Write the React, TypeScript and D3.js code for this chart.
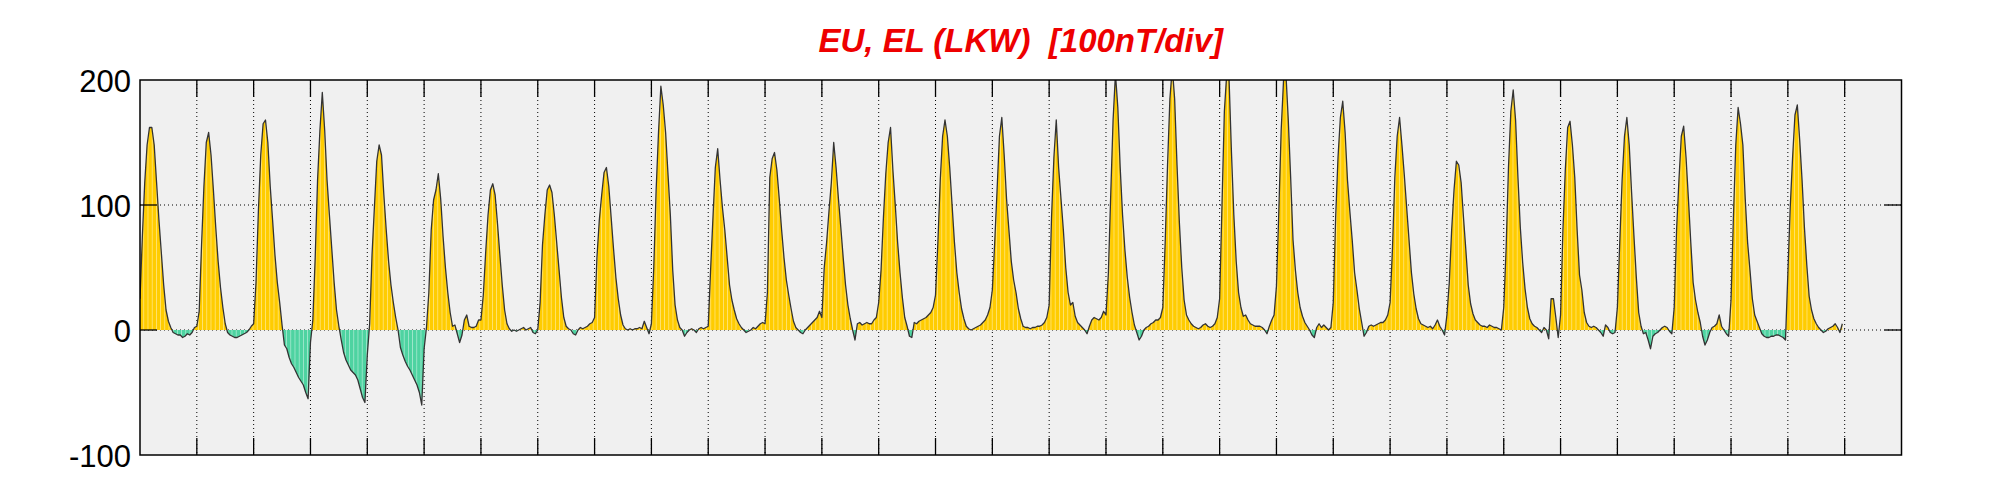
import React, { useEffect, useRef } from "react";
import * as d3 from "d3";

const title = "EU, EL (LKW)  [100nT/div]";
const yTicks = [-100, 0, 100, 200];
const dayTicks = d3.range(1, 31);
const dayCount = 31;

// hourly values (nT), one array of 24 per day
const hourly: number[][] = [
  [25, 75, 118, 148, 162, 162, 148, 118, 88, 62, 36, 16, 7, 2, -2, -3, -4, -4, -6, -5, -3, -4, -2, 2],
  [3, 15, 68, 115, 150, 158, 140, 112, 82, 55, 34, 18, 5, -2, -4, -5, -6, -6, -5, -4, -3, -2, 0, 3],
  [5, 38, 95, 140, 165, 168, 150, 115, 88, 60, 38, 22, 4, -12, -15, -22, -27, -30, -34, -38, -41, -44, -50, -55],
  [-10, 8, 58, 120, 160, 190, 160, 120, 92, 65, 38, 16, 3, -8, -18, -24, -28, -32, -34, -36, -40, -47, -54, -58],
  [-20, 5, 60, 98, 135, 148, 140, 108, 80, 55, 36, 22, 10, 0, -14, -20, -25, -29, -32, -36, -40, -44, -50, -60],
  [-15, 2, 30, 80, 104, 112, 125, 105, 75, 50, 30, 14, 3, 4, -3, -10, -4, 8, 12, 3, 2, 2, 3, 8],
  [8, 28, 62, 92, 112, 117, 108, 85, 60, 36, 16, 5, 1, -1, 0, -1, 0, 1, 2, 0, 1, 2, -2, -3],
  [0, 22, 68, 92, 112, 116, 110, 92, 70, 48, 26, 10, 3, 1, 0, -3, -4, 0, 2, 1, 2, 3, 5, 6],
  [10, 58, 88, 108, 126, 130, 115, 90, 65, 42, 25, 12, 4, 1, 0, 1, 0, 1, 1, 2, 1, 7, 2, -3],
  [5, 50, 112, 158, 195, 180, 158, 125, 92, 48, 20, 8, 2, 0, -5, -2, 0, 1, 0, -2, 1, 2, 1, 2],
  [3, 48, 90, 130, 145, 120, 98, 80, 58, 36, 24, 16, 9, 5, 2, 0, -2, -1, 0, 2, 1, 3, 5, 6],
  [5, 30, 122, 137, 142, 128, 105, 80, 58, 40, 28, 17, 7, 2, 0, -2, -3, 0, 2, 4, 6, 8, 10, 15],
  [10, 50, 70, 95, 118, 150, 130, 105, 82, 58, 36, 20, 9, 0, -8, 5, 6, 4, 5, 6, 5, 5, 8, 10],
  [22, 48, 90, 125, 150, 162, 128, 100, 70, 46, 26, 10, 3, -5, -6, 6, 5, 7, 8, 9, 10, 12, 14, 18],
  [28, 70, 120, 155, 168, 155, 130, 100, 70, 46, 30, 17, 9, 3, 1, 0, 1, 2, 3, 4, 6, 8, 12, 18],
  [32, 70, 112, 155, 170, 140, 105, 80, 55, 40, 30, 17, 9, 3, 2, 2, 1, 2, 2, 3, 3, 4, 6, 10],
  [20, 90, 138, 168, 130, 105, 80, 50, 30, 20, 22, 11, 6, 4, 2, 0, -3, 3, 8, 10, 9, 8, 10, 15],
  [12, 45, 108, 168, 205, 178, 130, 92, 64, 42, 26, 14, 4, -2, -8, -5, 0, 2, 3, 5, 6, 8, 8, 10],
  [18, 70, 132, 185, 210, 185, 132, 86, 50, 24, 12, 8, 5, 3, 2, 1, 2, 4, 5, 3, 2, 3, 5, 10],
  [25, 100, 175, 205, 200, 142, 92, 55, 30, 18, 11, 12, 8, 5, 4, 3, 3, 3, 2, 0, -3, 3, 8, 12],
  [35, 95, 160, 200, 205, 168, 122, 72, 48, 30, 18, 11, 6, 3, 0, -4, -6, 2, 5, 2, 4, 2, 0, 2],
  [22, 90, 138, 170, 183, 158, 120, 95, 72, 46, 32, 17, 6, -5, -2, 3, 4, 3, 4, 5, 6, 6, 8, 12],
  [22, 65, 122, 155, 170, 148, 124, 98, 72, 46, 29, 17, 9, 5, 4, 3, 2, 3, 1, 4, 8, 3, 0, -4],
  [12, 38, 80, 112, 135, 132, 118, 90, 64, 36, 21, 13, 8, 6, 4, 3, 3, 2, 4, 3, 2, 2, 1, 0],
  [18, 65, 130, 175, 192, 168, 122, 82, 54, 33, 18, 9, 5, 3, 2, 0, -2, 2, 0, -7, 25, 25, 10, -6],
  [12, 80, 128, 162, 167, 148, 122, 80, 44, 32, 14, 6, 3, 2, 3, 2, 0, -2, -5, 4, 2, -2, -3, -2],
  [18, 70, 120, 155, 170, 148, 110, 75, 42, 14, 3, -3, -2, -8, -15, -5, -3, -2, 0, 2, 3, 2, -1, -3],
  [18, 80, 120, 155, 163, 138, 105, 70, 38, 24, 14, 6, -5, -12, -8, -2, 2, 3, 5, 12, 3, 0, -3, -5],
  [24, 90, 148, 178, 165, 148, 105, 70, 48, 25, 12, 7, 2, -3, -5, -6, -6, -5, -5, -4, -4, -5, -6, -8],
  [45, 98, 138, 172, 180, 152, 120, 82, 52, 27, 16, 9, 5, 2, 0, -2, -1, 1, 2, 3, 5, 2, -2, 5],
];

type Pt = { t: number; v: number };

const App = () => {
  const chartRef = useRef<SVGSVGElement>(null);

  useEffect(() => {
    const width = 2001;
    const height = 500;
    const margin = { top: 80, right: 99.5, bottom: 45, left: 140 };
    const tickLen = 17;

    const points: Pt[] = hourly.flatMap((day, d) => day.map((v, h) => ({ t: d + h / 24, v })));

    const x = d3.scaleLinear().domain([0, dayCount]).range([margin.left, width - margin.right]);
    const y = d3.scaleLinear().domain([-100, 200]).range([height - margin.bottom, margin.top]);

    const svg = d3.select(chartRef.current);
    svg.selectAll("*").remove();

    const defs = svg.append("defs");
    defs.append("clipPath").attr("id", "plot-clip")
      .append("rect").attr("x", x(0)).attr("y", y(200)).attr("width", x(dayCount) - x(0)).attr("height", y(-100) - y(200));
    defs.append("clipPath").attr("id", "pos-clip")
      .append("rect").attr("x", x(0)).attr("y", y(200)).attr("width", x(dayCount) - x(0)).attr("height", y(0) - y(200));
    defs.append("clipPath").attr("id", "neg-clip")
      .append("rect").attr("x", x(0)).attr("y", y(0)).attr("width", x(dayCount) - x(0)).attr("height", y(-100) - y(0));

    // striped fill, like the stem-plot texture of the original
    const stripe = 4.2;
    [["stripe-pos", "#FFCC00"], ["stripe-neg", "#4ED3A1"]].forEach(([id, color]) => {
      const p = defs.append("pattern").attr("id", id)
        .attr("patternUnits", "userSpaceOnUse")
        .attr("x", x(0)).attr("y", 0)
        .attr("width", stripe).attr("height", 10);
      p.append("rect").attr("width", stripe).attr("height", 10).attr("fill", color);
      p.append("rect").attr("x", stripe - 0.8).attr("width", 0.8).attr("height", 10).attr("fill", "#fff").attr("opacity", 0.5);
    });

    // plot background
    svg.append("rect")
      .attr("x", x(0)).attr("y", y(200))
      .attr("width", x(dayCount) - x(0)).attr("height", y(-100) - y(200))
      .attr("fill", "#F0F0F0");

    // dotted grid
    svg.append("g").selectAll("line").data(dayTicks).enter().append("line")
      .attr("x1", (d) => x(d)).attr("x2", (d) => x(d))
      .attr("y1", y(200)).attr("y2", y(-100))
      .attr("stroke", "#000").attr("stroke-width", 1).attr("stroke-dasharray", "1,3");
    svg.append("g").selectAll("line").data([0, 100]).enter().append("line")
      .attr("x1", x(0)).attr("x2", x(dayCount))
      .attr("y1", (d) => y(d)).attr("y2", (d) => y(d))
      .attr("stroke", "#000").attr("stroke-width", 1).attr("stroke-dasharray", "1,3");

    const area = d3.area<Pt>().x((d) => x(d.t)).y0(y(0)).y1((d) => y(d.v));
    const line = d3.line<Pt>().x((d) => x(d.t)).y((d) => y(d.v));

    const plot = svg.append("g").attr("clip-path", "url(#plot-clip)");
    plot.append("g").attr("clip-path", "url(#pos-clip)")
      .append("path").datum(points).attr("d", area).attr("fill", "url(#stripe-pos)");
    plot.append("g").attr("clip-path", "url(#neg-clip)")
      .append("path").datum(points).attr("d", area).attr("fill", "url(#stripe-neg)");
    plot.append("path").datum(points)
      .attr("d", line)
      .attr("fill", "none")
      .attr("stroke", "#333")
      .attr("stroke-width", 1.3)
      .attr("stroke-linejoin", "round");

    // ticks, pointing inward
    const ticks = svg.append("g").attr("stroke", "#000").attr("stroke-width", 1.3);
    dayTicks.forEach((d) => {
      ticks.append("line").attr("x1", x(d)).attr("x2", x(d)).attr("y1", y(200)).attr("y2", y(200) + tickLen);
      ticks.append("line").attr("x1", x(d)).attr("x2", x(d)).attr("y1", y(-100)).attr("y2", y(-100) - tickLen);
    });
    [0, 100].forEach((v) => {
      ticks.append("line").attr("x1", x(0)).attr("x2", x(0) + tickLen).attr("y1", y(v)).attr("y2", y(v));
      ticks.append("line").attr("x1", x(dayCount)).attr("x2", x(dayCount) - tickLen).attr("y1", y(v)).attr("y2", y(v));
    });

    // frame
    svg.append("rect")
      .attr("x", x(0)).attr("y", y(200))
      .attr("width", x(dayCount) - x(0)).attr("height", y(-100) - y(200))
      .attr("fill", "none").attr("stroke", "#000").attr("stroke-width", 1.5);

    // y labels
    svg.append("g").selectAll("text").data(yTicks).enter().append("text")
      .attr("x", x(0) - 9)
      .attr("y", (d) => y(d) + 11.5)
      .attr("text-anchor", "end")
      .style("font-family", "'Liberation Sans', Arial, sans-serif")
      .style("font-size", "31px")
      .attr("fill", "#000")
      .text((d) => d);

    svg.append("text")
      .attr("x", (x(0) + x(dayCount)) / 2)
      .attr("y", 52)
      .attr("text-anchor", "middle")
      .style("font-family", "'Liberation Sans', Arial, sans-serif")
      .style("font-size", "33px")
      .style("font-weight", "bold")
      .style("font-style", "italic")
      .style("white-space", "pre")
      .attr("fill", "#EE0000")
      .text(title);
  }, []);

  return (
    <svg
      ref={chartRef}
      width={2001}
      height={500}
      style={{ position: "absolute", left: 0, top: 0, background: "#fff" }}
    />
  );
};

export default App;
